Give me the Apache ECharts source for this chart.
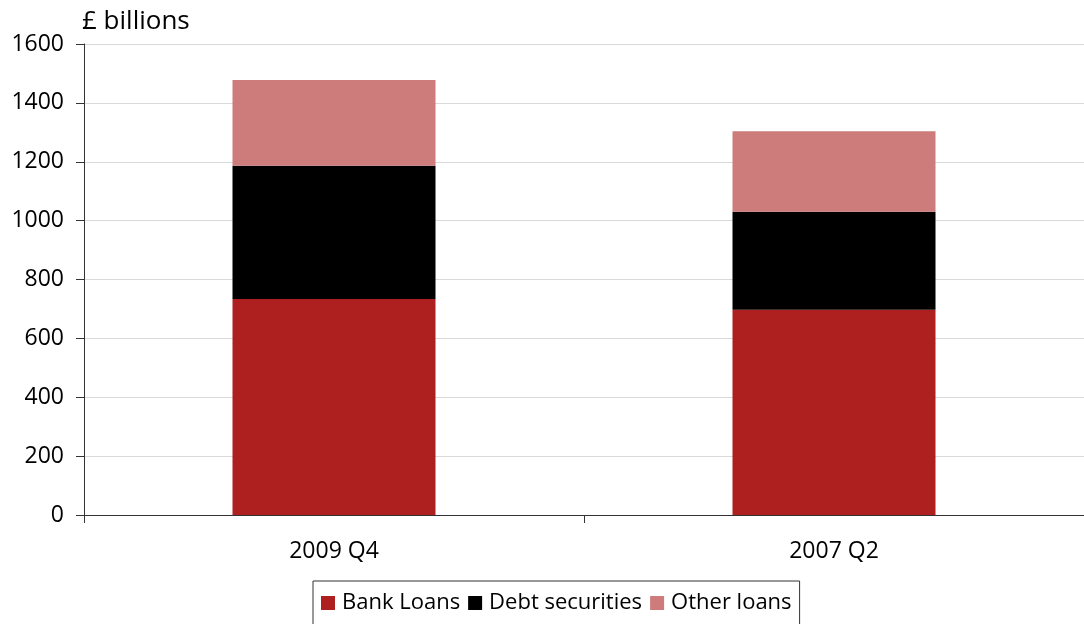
<!DOCTYPE html>
<html>
<head>
<meta charset="utf-8">
<script src="https://cdn.jsdelivr.net/npm/echarts@6/dist/echarts.min.js"></script>
<style>
html, body { margin: 0; padding: 0; background: #fff; }
#chart { width: 1084px; height: 624px; }
</style>
</head>
<body>
<div id="chart"></div>
<script>
var categories = ['2009 Q4', '2007 Q2'];
var bankLoans = [734, 697];
var debtSecurities = [452, 333];
var otherLoans = [292, 274];
var seriesNames = ['Bank Loans', 'Debt securities', 'Other loans'];
var colors = ['#ae1f1f', '#000000', '#cd7b7b'];

var fontName = '"Open Sans", "Noto Sans", sans-serif';

var chart = echarts.init(document.getElementById('chart'));
var option = {
	animation: false,
	color: colors,
	textStyle: { fontFamily: fontName },
	title: {
		text: '£ billions',
		left: 82,
		top: 9,
		padding: 0,
		textStyle: { fontSize: 26, fontWeight: 'normal', color: '#000', fontFamily: fontName }
	},
	legend: {
		data: seriesNames,
		left: 313,
		top: 581,
		itemWidth: 14,
		itemHeight: 14,
		itemGap: 8,
		padding: [11, 8, 14, 8],
		borderColor: '#333',
		borderWidth: 1,
		icon: 'rect',
		textStyle: { fontSize: 22, color: '#000', fontFamily: fontName, padding: [0, 0, 0, 2] }
	},
	grid: {
		left: 84,
		right: 0,
		top: 44,
		bottom: 109,
		containLabel: false
	},
	xAxis: {
		type: 'category',
		data: categories,
		axisLine: { lineStyle: { color: '#333', width: 1 } },
		axisTick: { show: true, length: 8, lineStyle: { color: '#333' } },
		axisLabel: { fontSize: 23, color: '#000', margin: 25, fontFamily: fontName }
	},
	yAxis: {
		type: 'value',
		min: 0,
		max: 1600,
		interval: 200,
		axisLine: { show: true, lineStyle: { color: '#333', width: 1 } },
		axisTick: { show: true, length: 8, lineStyle: { color: '#333' } },
		axisLabel: {
			fontSize: 23, color: '#000', margin: 20, fontFamily: fontName,
			formatter: function (v) { return String(v); }
		},
		splitLine: { lineStyle: { color: '#d9d9d9', width: 1 } }
	},
	series: [
		{ name: seriesNames[0], type: 'bar', stack: 'total', barWidth: '40.6%', data: bankLoans },
		{ name: seriesNames[1], type: 'bar', stack: 'total', barWidth: '40.6%', data: debtSecurities },
		{ name: seriesNames[2], type: 'bar', stack: 'total', barWidth: '40.6%', data: otherLoans }
	]
};
chart.setOption(option);
</script>
</body>
</html>
